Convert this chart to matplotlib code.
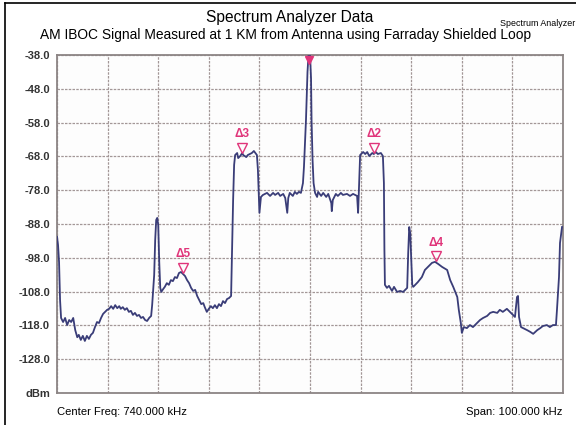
import matplotlib
matplotlib.use('Agg')
import matplotlib.pyplot as plt
from matplotlib.lines import Line2D

plt.rcParams['font.family'] = ['Liberation Sans', 'DejaVu Sans']

# ── trace (kHz, dBm) ───────────────────────────────────────────────────────────
freq_khz = [
    690.0, 690.2, 690.4, 690.6, 690.8, 691.2, 691.6, 692.0, 692.4, 692.8,
    693.2, 693.6, 694.0, 694.3, 694.7, 695.1, 695.5, 695.9, 696.3, 696.7,
    697.1, 697.5, 697.9, 698.3, 698.7, 699.1, 699.5, 699.9, 700.3, 700.7,
    701.1, 701.5, 701.9, 702.3, 702.6, 703.0, 703.4, 703.8, 704.2, 704.6,
    705.0, 705.4, 705.8, 706.2, 706.6, 707.0, 707.4, 707.8, 708.2, 708.6,
    708.8, 709.2, 709.4, 709.6, 709.8, 710.0, 710.2, 710.4, 710.6, 711.0,
    711.3, 711.7, 712.1, 712.5, 712.9, 713.3, 713.7, 714.1, 714.5, 714.9,
    715.3, 715.7, 716.1, 716.5, 716.9, 717.3, 717.7, 718.1, 718.5, 718.9,
    719.2, 719.6, 720.0, 720.4, 720.8, 721.2, 721.6, 722.0, 722.4, 722.8,
    723.2, 723.6, 724.0, 724.4, 724.6, 724.8, 725.0,
    725.2, 725.6, 725.8, 726.2, 726.6, 726.8, 727.4, 727.7, 728.5, 728.9,
    729.5, 729.7, 729.9, 730.0, 730.3,
    730.7, 731.5, 732.1, 732.7, 733.1, 733.7, 734.1, 734.7, 735.1, 735.5,
    735.7, 736.0, 736.6, 737.0, 737.4, 737.8, 738.2, 738.6, 738.8, 739.2,
    739.5, 739.7, 740.0, 740.2, 740.3, 740.5, 740.7, 741.0,
    741.4, 741.6, 742.2, 742.6, 743.2, 743.6, 744.2, 744.3, 744.5, 745.1,
    745.5, 746.1, 746.5, 747.3, 747.9, 748.5, 749.3, 749.5, 749.7, 749.9,
    750.5, 750.9, 751.3, 751.7, 752.3, 752.6, 753.0, 753.4, 754.0, 754.4,
    754.6, 754.7, 754.8,
    755.2, 755.6, 756.2, 756.6, 757.2, 757.8, 758.4, 759.2, 759.4, 759.6,
    759.8, 760.0, 760.2, 760.4, 761.3, 762.1, 762.7, 763.3, 764.1, 764.7,
    765.3, 766.1, 767.1, 767.7, 768.3, 769.1, 769.4, 769.8, 770.0, 770.4,
    771.0, 771.6, 772.2, 773.0, 773.6, 774.2, 775.0, 775.6, 776.2, 777.0,
    777.5, 778.1, 778.9, 779.5, 780.5, 780.9, 781.1, 781.3, 781.7, 782.1,
    782.9, 783.5, 784.1, 784.9, 785.5, 786.0, 786.8, 787.4, 788.0, 788.6,
    788.8, 789.2, 789.4, 789.8,
]
level_dbm = [
    -91.8, -94.2, -99.2, -110.5, -115.8, -117.0, -115.8, -117.9, -116.4, -117.0,
    -115.8, -119.4, -121.5, -120.8, -122.3, -121.1, -122.6, -121.1, -122.0, -120.8,
    -120.2, -118.5, -117.0, -117.3, -115.8, -114.6, -114.0, -113.4, -113.1, -112.3,
    -113.1, -112.0, -112.9, -112.3, -113.1, -112.6, -113.4, -112.9, -114.0, -113.7,
    -114.9, -114.3, -115.2, -114.9, -115.8, -115.5, -116.4, -116.7, -115.8, -115.2,
    -112.0, -103.1, -92.7, -86.8, -86.2, -88.3, -99.2, -106.9, -108.1, -107.2,
    -106.6, -105.5, -106.0, -104.6, -104.9, -103.7, -104.0, -102.5, -102.2, -102.8,
    -103.4, -104.6, -105.5, -106.9, -107.8, -107.5, -109.3, -110.5, -111.7, -111.4,
    -112.6, -114.0, -113.1, -112.3, -112.9, -112.0, -112.9, -111.7, -112.3, -110.8,
    -111.4, -110.2, -109.9, -109.3, -95.7, -80.9, -70.5,
    -67.6, -67.0, -68.5, -67.9, -67.0, -67.6, -68.2, -67.6, -67.0, -66.4,
    -67.6, -72.0, -80.0, -84.7, -80.0,
    -79.4, -78.8, -79.7, -78.8, -79.4, -78.8, -79.7, -79.1, -80.3, -84.7,
    -80.3, -78.8, -79.7, -78.5, -79.1, -78.5, -78.8, -75.9, -71.1, -57.2,
    -43.0, -38.0, -38.0, -45.0, -57.2, -69.0, -75.9, -78.8,
    -80.0, -78.5, -79.7, -78.8, -80.0, -79.1, -81.8, -84.2, -80.9, -79.1,
    -79.7, -78.8, -79.4, -79.1, -79.7, -79.1, -79.7, -84.7, -75.9, -67.6,
    -66.7, -67.3, -66.7, -67.9, -67.0, -67.3, -66.7, -67.3, -67.0, -67.9,
    -75.9, -95.7, -106.0,
    -106.9, -106.3, -107.8, -106.6, -108.1, -107.8, -108.1, -106.9, -96.6, -88.9,
    -90.7, -98.7, -106.0, -106.6, -105.2, -103.7, -101.6, -100.7, -99.5, -99.2,
    -99.8, -100.7, -101.6, -104.6, -106.6, -109.6, -113.4, -117.3, -120.2, -118.5,
    -118.8, -117.9, -118.5, -117.3, -116.4, -115.8, -115.2, -114.3, -114.0, -114.3,
    -113.4, -114.0, -113.1, -114.0, -115.5, -109.6, -109.3, -115.5, -118.5, -118.8,
    -119.4, -119.9, -120.5, -119.4, -118.8, -118.2, -117.9, -118.5, -117.9, -117.9,
    -113.4, -103.7, -93.6, -88.9,
]

# delta markers: label, frequency, marker level
marker_labels = ['\u03942', '\u03943', '\u03944', '\u03945']
marker_freq = [752.6, 726.6, 764.8, 714.9]
marker_level = [-65.5, -65.4, -97.6, -101.0]

y_ticks = [-38, -48, -58, -68, -78, -88, -98, -108, -118, -128, -138]
y_ticklabels = ['-38.0', '-48.0', '-58.0', '-68.0', '-78.0', '-88.0', '-98.0',
                '-108.0', '-118.0', '-128.0', 'dBm']
x_ticks = list(range(690, 791, 10))

TRACE = '#3a3d78'
PINK = '#e0357a'
GRID = '#a39797'

fig = plt.figure(figsize=(5.76, 4.25), dpi=100)
ax = fig.add_axes([0.099, 0.0753, 0.8785, 0.7953])
ax.set_facecolor('#fdfdfd')

ax.plot(freq_khz, level_dbm, color=TRACE, linewidth=1.3, zorder=3)

for lab, f, lv in zip(marker_labels, marker_freq, marker_level):
    ax.plot(f, lv, marker='v', markersize=6.5, markerfacecolor='none',
            markeredgecolor=PINK, markeredgewidth=1.0, zorder=4)
    ax.text(f, lv + 2.3, lab, color=PINK, fontsize=8.5, fontweight='bold',
            ha='center', va='bottom', zorder=4)
# carrier marker sitting at the top edge
ax.plot(739.8, -39.5, marker='v', markersize=6, color=PINK, clip_on=False, zorder=5)

ax.set_xlim(690, 790)
ax.set_ylim(-138, -38)
ax.set_xticks(x_ticks)
ax.set_xticklabels([])
ax.set_yticks(y_ticks)
ax.set_yticklabels(y_ticklabels, fontsize=8, fontweight='bold', color='#333333')
ax.tick_params(length=0, pad=5)
ax.grid(True, color=GRID, linewidth=0.9, linestyle=(0, (2, 1)))
for s in ax.spines.values():
    s.set_color('#8c8585')
    s.set_linewidth(1.3)

fig.text(0.503, 0.958, 'Spectrum Analyzer Data', ha='center', va='center', fontsize=11.2)
fig.text(0.495, 0.917, 'AM IBOC Signal Measured at 1 KM from Antenna using Farraday Shielded Loop',
         ha='center', va='center', fontsize=9.9)
fig.text(0.999, 0.945, 'Spectrum Analyzer', ha='right', va='center', fontsize=6.4)
fig.text(0.099, 0.030, 'Center Freq: 740.000 kHz', ha='left', va='center', fontsize=8.1)
fig.text(0.977, 0.030, 'Span: 100.000 kHz', ha='right', va='center', fontsize=8.1)

# outer frame on left and top edges, as in the screenshot
fig.add_artist(Line2D([0.009, 0.009], [0.0, 0.993], color='black', linewidth=1.2))
fig.add_artist(Line2D([0.009, 1.0], [0.993, 0.993], color='black', linewidth=1.2))

fig.savefig('out.png', dpi=100)
